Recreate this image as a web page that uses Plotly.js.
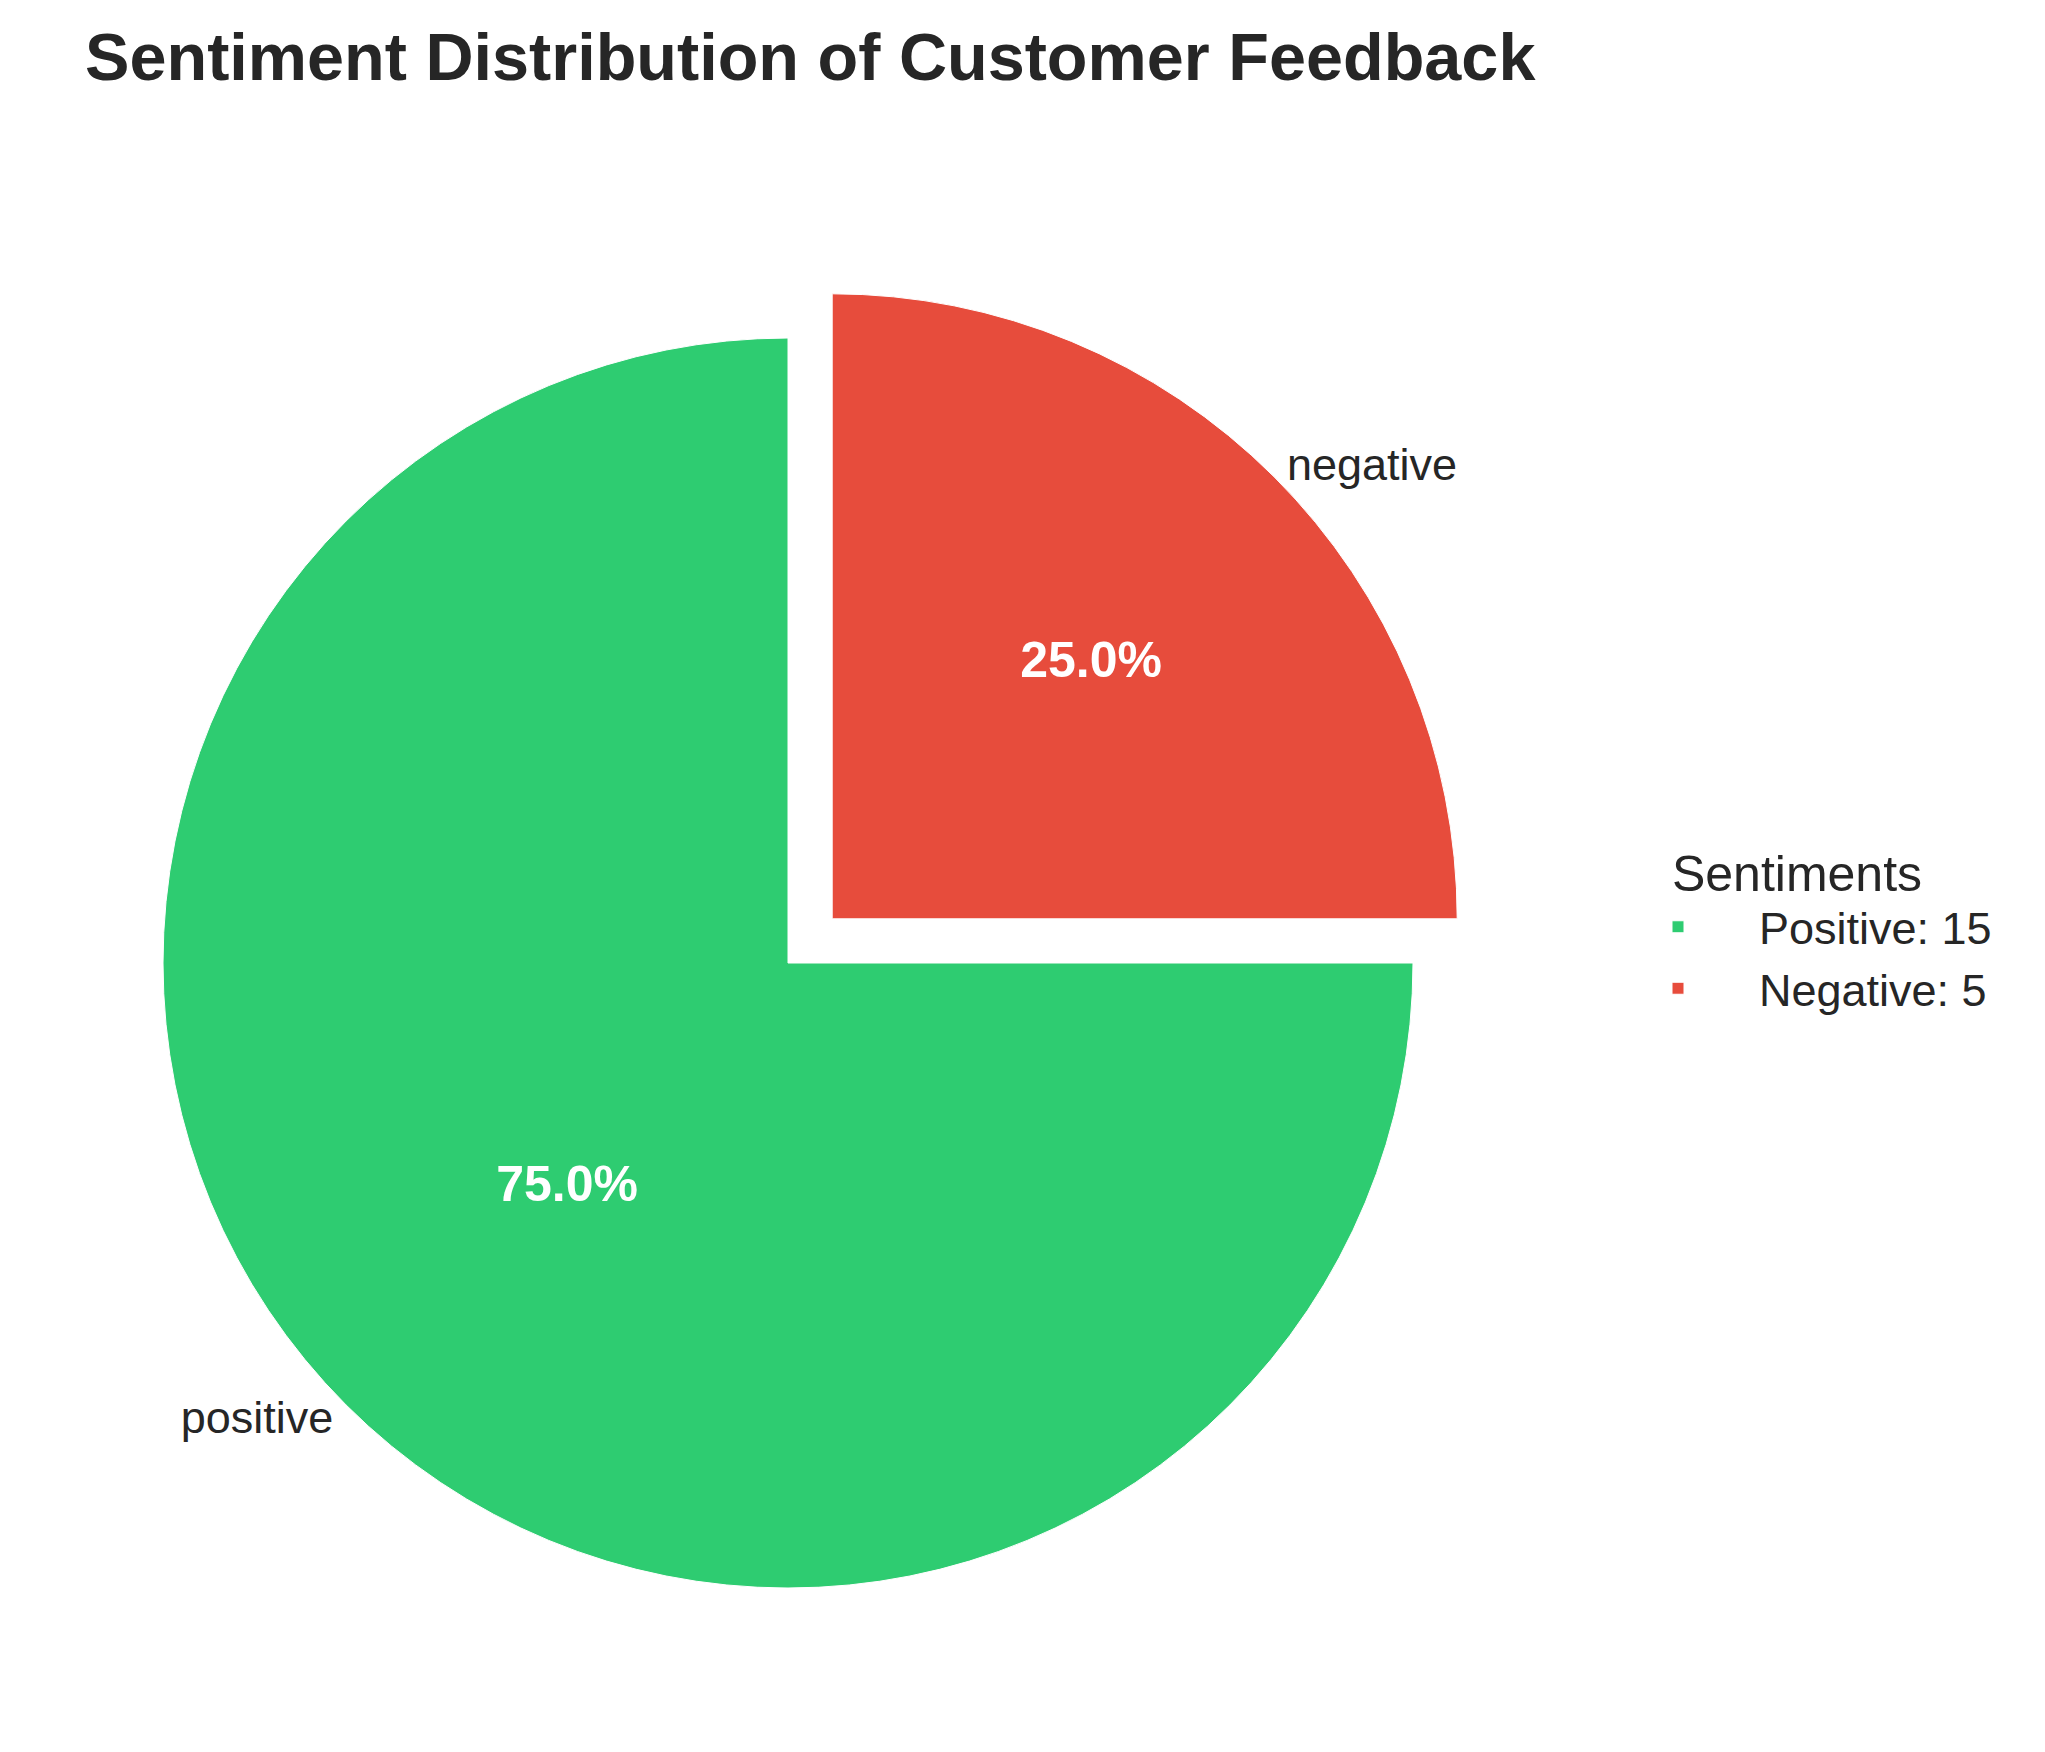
<!DOCTYPE html>
<html>
<head>
<meta charset="utf-8">
<script src="https://cdn.plot.ly/plotly-3.0.1.min.js"></script>
<style>html,body{margin:0;padding:0;background:#fff;}#chart{width:2045px;height:1752px;}</style>
</head>
<body>
<div id="chart"></div>
<script>
const sentiments = ['positive', 'negative'];
const counts = [15, 5];
const legendNames = ['Positive', 'Negative'];
const sliceColors = ['#2ecc71', '#e74c3c'];
const explode = [0, 0.1];

const W = 2045, H = 1752;
const FONT = '"Liberation Sans", Arial, Helvetica, sans-serif';
const cx = 788, cy = 963, r = 625;
const half = r * (1 + Math.max(...explode));
const domain = {
  x: [(cx - half) / W, (cx + half) / W],
  y: [1 - (cy + half) / H, 1 - (cy - half) / H]
};

const legendLabels = legendNames.map((n, i) => n + ': ' + counts[i]);

const mainPie = {
  type: 'pie',
  labels: legendLabels,
  values: counts,
  sort: false,
  direction: 'clockwise',
  rotation: 90,
  pull: explode,
  domain: domain,
  marker: {colors: sliceColors, line: {color: '#ffffff', width: 1}},
  texttemplate: '%{percent:.1%}',
  textposition: 'inside',
  insidetextorientation: 'horizontal',
  textfont: {family: FONT, size: 50, color: '#ffffff', weight: 'bold'},
  hoverinfo: 'label+value+percent',
  showlegend: true
};

const labelPie = {
  type: 'pie',
  labels: sentiments,
  values: counts,
  sort: false,
  direction: 'clockwise',
  rotation: 90,
  pull: explode,
  domain: domain,
  marker: {colors: ['rgba(0,0,0,0)', 'rgba(0,0,0,0)'], line: {width: 0}},
  textinfo: 'label',
  textposition: 'outside',
  textfont: {family: FONT, size: 45, color: '#262626'},
  hoverinfo: 'skip',
  showlegend: false
};

const layout = {
  width: W,
  height: H,
  margin: {l: 0, r: 0, t: 0, b: 0},
  paper_bgcolor: '#ffffff',
  plot_bgcolor: '#ffffff',
  font: {family: FONT, color: '#262626'},
  title: {
    text: 'Sentiment Distribution of Customer Feedback',
    font: {family: FONT, size: 66.6, color: '#262626', weight: 'bold'},
    x: 85 / W, xref: 'container', xanchor: 'left',
    y: 1 - 57 / H, yref: 'container', yanchor: 'middle'
  },
  legend: {
    title: {text: 'Sentiments', font: {family: FONT, size: 50, color: '#262626'}, side: 'top center'},
    font: {family: FONT, size: 45, color: '#262626'},
    itemwidth: 152,
    x: 1597 / W, xanchor: 'left',
    y: 1 - 826 / H, yanchor: 'top',
    bgcolor: 'rgba(0,0,0,0)',
    traceorder: 'normal'
  },
  showlegend: true
};

Plotly.newPlot('chart', [mainPie, labelPie], layout, {displayModeBar: false, staticPlot: true});
</script>
</body>
</html>
